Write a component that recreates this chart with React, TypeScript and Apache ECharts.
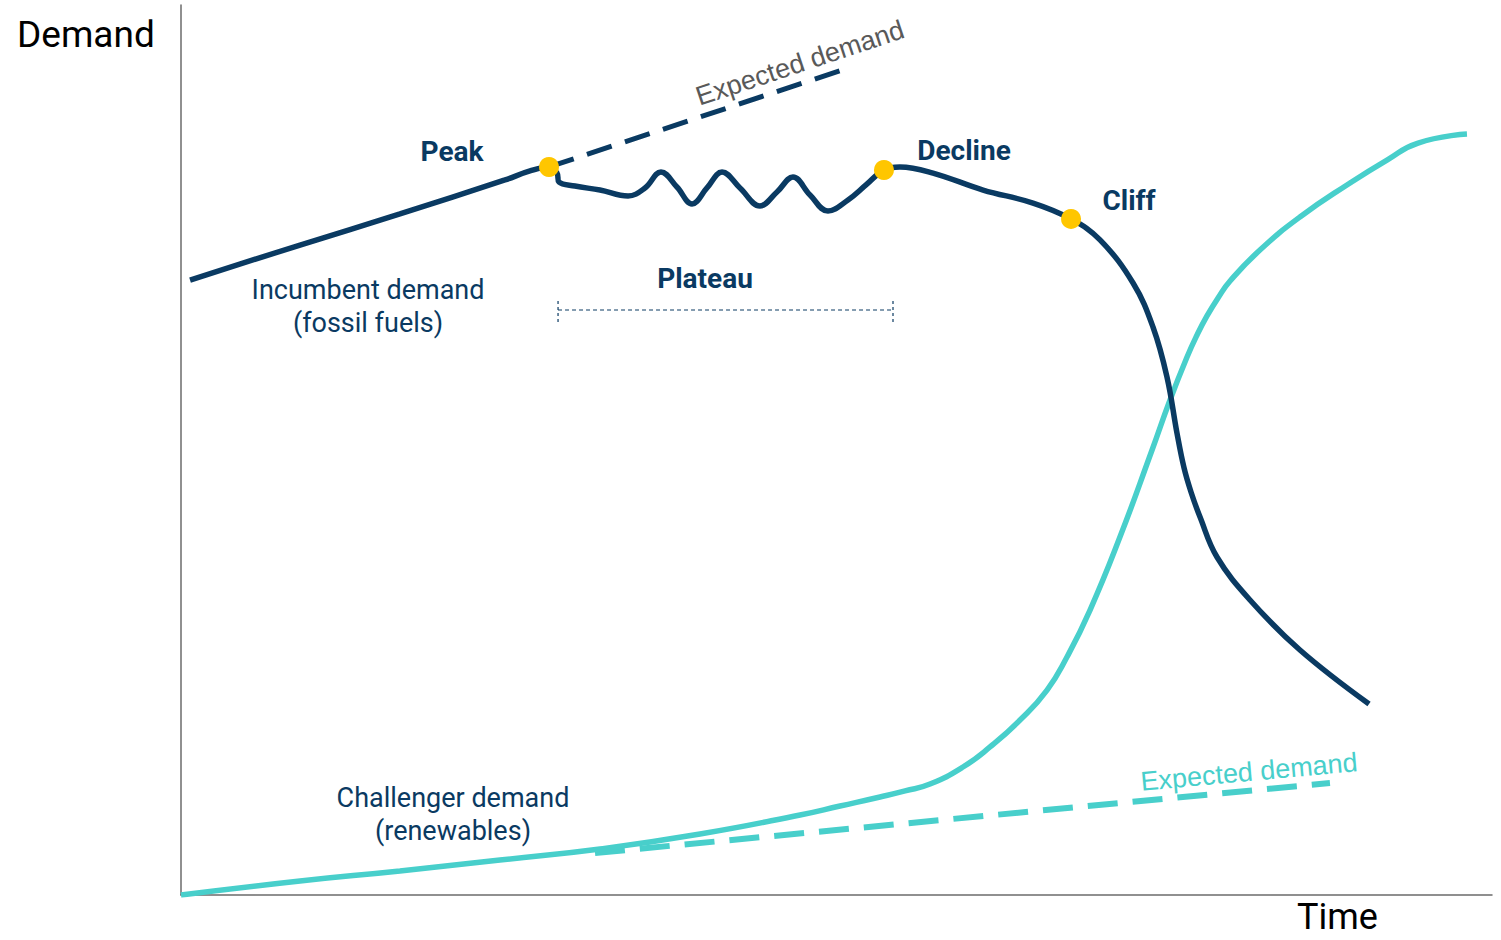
import React, { useEffect, useRef } from "react";
import * as echarts from "echarts";

// Time (0-100) vs Demand (0-100), conceptual units
const incumbentDemand: [number, number][] = [
  [0.69, 69.1], [9.08, 73.03], [16.7, 76.52], [24.71, 80.34], [26.62, 81.35], [28.07, 81.8],
  [28.68, 81.12], [28.83, 80.11], [30.05, 79.66], [31.96, 79.21], [34.1, 78.54],
  [35.39, 79.44], [36.61, 81.24], [37.83, 79.55], [38.98, 77.64], [40.12, 79.44],
  [41.27, 81.24], [42.64, 79.44], [44.16, 77.42], [45.46, 78.99], [46.68, 80.67],
  [47.98, 78.65], [49.35, 76.85], [50.88, 78.09], [52.25, 79.78], [53.62, 81.46],
  [54.84, 81.8], [57.36, 81.12], [61.18, 79.21], [64.99, 77.75], [67.89, 75.96],
  [70.1, 73.6], [72.62, 68.76], [74.14, 63.82], [75.21, 58.2], [75.97, 51.91],
  [76.51, 47.98], [77.04, 45.28], [77.73, 42.47], [79.02, 37.98], [81.54, 33.15],
  [85.35, 27.53], [90.62, 21.46],
];
const incumbentExpected: [number, number][] = [[28.07, 81.8], [50.88, 92.92]];

const challengerDemand: [number, number][] = [
  [0, 0], [9.08, 1.57], [16.7, 2.7], [24.33, 3.93], [31.96, 5.17], [39.59, 6.85],
  [47.22, 8.99], [50.27, 10.0], [53.32, 11.01], [55.23, 11.69], [57.13, 12.47], [59.65, 14.38], [61.71, 16.63],
  [64.0, 19.66], [66.06, 23.03], [67.58, 26.74], [69.34, 32.02], [71.62, 40.22], [74.07, 50.0],
  [75.44, 55.62], [76.74, 60.45], [77.5, 62.92], [78.26, 65.06], [79.1, 67.08], [80.02, 68.99],
  [82.3, 72.47], [85.35, 76.18], [89.17, 80.0], [91.99, 82.58], [94.36, 84.49], [98.09, 85.51],
];
const challengerExpected: [number, number][] = [[31.58, 4.72], [87.64, 12.58]];

const milestones: [number, number][] = [[28.07, 81.8], [53.62, 81.46], [67.89, 75.96]];
const milestoneLabels = ["Peak", "Decline", "Cliff"];

const plateauStart = 28.76;
const plateauEnd = 54.31;
const plateauLevel = 65.73;
const plateauTick = 1.35;

const NAVY = "#0a3a62";
const TEAL = "#48cfcb";
const GOLD = "#ffc600";

export default function App() {
  const ref = useRef<HTMLDivElement>(null);
  useEffect(() => {
    if (!ref.current) return;
    const chart = echarts.init(ref.current, undefined, { renderer: "svg" });
    const labelFont = "Roboto, 'Liberation Sans', sans-serif";
    const axisCommon = {
      type: "value" as const,
      min: 0,
      max: 100,
      axisLine: { show: true, lineStyle: { color: "#6b6b6b", width: 1.5 } },
      axisTick: { show: false },
      axisLabel: { show: false },
      splitLine: { show: false },
    };
    chart.setOption({
      animation: false,
      backgroundColor: "#ffffff",
      grid: { left: 181, right: 9, top: 5, bottom: 45 },
      xAxis: axisCommon,
      yAxis: axisCommon,
      series: [
        {
          type: "line",
          data: incumbentExpected,
          showSymbol: false,
          lineStyle: { color: NAVY, width: 5, type: [26, 14] },
          z: 2,
        },
        {
          type: "line",
          data: challengerExpected,
          showSymbol: false,
          lineStyle: { color: TEAL, width: 6, type: [30, 15] },
          z: 2,
        },
        {
          type: "line",
          data: challengerDemand,
          smooth: 0.5,
          showSymbol: false,
          lineStyle: { color: TEAL, width: 5.5 },
          z: 3,
        },
        {
          type: "line",
          data: incumbentDemand,
          smooth: 0.4,
          showSymbol: false,
          lineStyle: { color: NAVY, width: 5.5 },
          z: 4,
        },
        {
          type: "line",
          data: [[plateauStart, plateauLevel], [plateauEnd, plateauLevel]],
          showSymbol: false,
          lineStyle: { color: NAVY, width: 1.2, type: [4, 3] },
          z: 2,
        },
        {
          type: "line",
          data: [[plateauStart, plateauLevel - plateauTick], [plateauStart, plateauLevel + plateauTick]],
          showSymbol: false,
          lineStyle: { color: NAVY, width: 1.2, type: [3, 3] },
          z: 2,
        },
        {
          type: "line",
          data: [[plateauEnd, plateauLevel - plateauTick], [plateauEnd, plateauLevel + plateauTick]],
          showSymbol: false,
          lineStyle: { color: NAVY, width: 1.2, type: [3, 3] },
          z: 2,
        },
        {
          type: "scatter",
          data: milestones,
          symbolSize: 20,
          itemStyle: { color: GOLD, opacity: 1 },
          z: 6,
        },
      ],
      graphic: [
        { type: "text", left: 17, top: 16, style: { text: "Demand", font: `37px ${labelFont}`, fill: "#000" } },
        { type: "text", left: 1297, top: 899, style: { text: "Time", font: `36px ${labelFont}`, fill: "#000" } },
        { type: "text", x: 452, y: 151, style: { text: milestoneLabels[0], font: `bold 28px ${labelFont}`, fill: NAVY, align: "center", verticalAlign: "middle" } },
        { type: "text", x: 964, y: 150, style: { text: milestoneLabels[1], font: `bold 28px ${labelFont}`, fill: NAVY, align: "center", verticalAlign: "middle" } },
        { type: "text", x: 1129, y: 200, style: { text: milestoneLabels[2], font: `bold 28px ${labelFont}`, fill: NAVY, align: "center", verticalAlign: "middle" } },
        { type: "text", x: 705, y: 278, style: { text: "Plateau", font: `bold 28px ${labelFont}`, fill: NAVY, align: "center", verticalAlign: "middle" } },
        { type: "text", x: 368, y: 290, style: { text: "Incumbent demand", font: `27px ${labelFont}`, fill: NAVY, align: "center", verticalAlign: "middle" } },
        { type: "text", x: 368, y: 323, style: { text: "(fossil fuels)", font: `27px ${labelFont}`, fill: NAVY, align: "center", verticalAlign: "middle" } },
        { type: "text", x: 453, y: 798, style: { text: "Challenger demand", font: `27px ${labelFont}`, fill: NAVY, align: "center", verticalAlign: "middle" } },
        { type: "text", x: 453, y: 831, style: { text: "(renewables)", font: `27px ${labelFont}`, fill: NAVY, align: "center", verticalAlign: "middle" } },
        { type: "text", x: 800, y: 63, rotation: 0.32, style: { text: "Expected demand", font: `27px 'Liberation Sans', Arial, sans-serif`, fill: "#595959", align: "center", verticalAlign: "middle" } },
        { type: "text", x: 1249, y: 772, rotation: 0.09, style: { text: "Expected demand", font: `27px 'Liberation Sans', Arial, sans-serif`, fill: TEAL, align: "center", verticalAlign: "middle" } },
      ],
    });
    return () => chart.dispose();
  }, []);
  return <div ref={ref} style={{ width: 1501, height: 940, position: "absolute", left: 0, top: 0 }} />;
}
